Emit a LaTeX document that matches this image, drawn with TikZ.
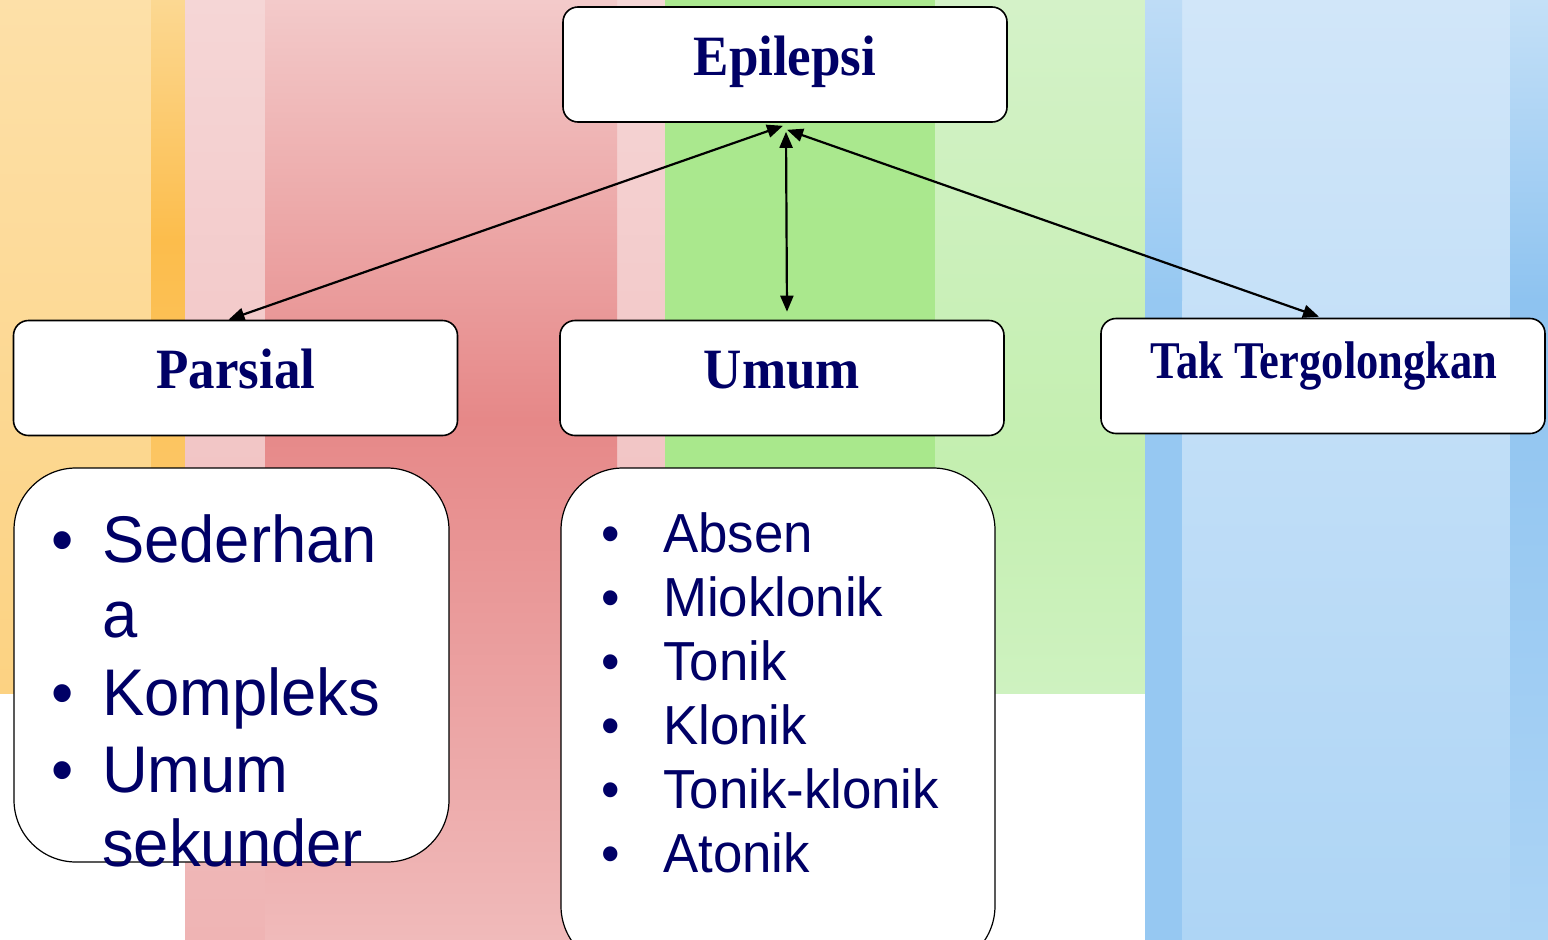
\documentclass[tikz,border=0pt]{standalone}
\usepackage{fontspec}
\newfontfamily\serifb[FakeStretch=0.93]{Liberation Serif}
\newfontfamily\serifc[FakeStretch=0.84]{Liberation Serif}
\newfontfamily\arialc[FakeStretch=0.96]{Liberation Sans}
\usetikzlibrary{arrows.meta,calc}
\definecolor{navy}{RGB}{0,0,102}
\definecolor{bluestripe}{RGB}{150,200,242}
\tikzset{
  topbox/.style={draw=black, line width=1.6pt, rounded corners=15pt, fill=white,
     minimum width=444pt, minimum height=115pt, inner sep=0pt},
  listbox/.style={draw=black, line width=1.2pt, rounded corners=62pt, fill=white, inner sep=0pt},
  title/.style={text=navy, anchor=base, inner sep=0pt, font=\serifb\bfseries\fontsize{57pt}{60pt}\selectfont},
  titlesm/.style={text=navy, anchor=base, inner sep=0pt, font=\serifc\bfseries\fontsize{53pt}{56pt}\selectfont},
  itemL/.style={text=navy, anchor=base west, inner sep=0pt, font=\arialc\fontsize{66pt}{70pt}\selectfont},
  itemR/.style={text=navy, anchor=base west, inner sep=0pt, font=\arialc\fontsize{55pt}{60pt}\selectfont},
  bulL/.style={text=navy, anchor=base, inner sep=0pt, font=\arialc\fontsize{66pt}{70pt}\selectfont},
  bulR/.style={text=navy, anchor=base, inner sep=0pt, font=\arialc\fontsize{55pt}{60pt}\selectfont},
  conn/.style={line width=2.2pt, {Triangle[length=16pt,width=13pt]}-{Triangle[length=16pt,width=13pt]}}
}
\begin{document}
\begin{tikzpicture}[x=1pt,y=-1pt]
\useasboundingbox (0,0) rectangle (1548,940);
\clip (0,0) rectangle (1548,940);
\fill[white] (0,0) rectangle (1548,940);
% orange band
\shade[top color={rgb,255:red,253;green,224;blue,168}, bottom color={rgb,255:red,252;green,210;blue,130}] (0,0) rectangle (151,693);
\shade[top color={rgb,255:red,252;green,216;blue,146}, bottom color={rgb,255:red,252;green,189;blue,76}] (151,0) rectangle (185,240);
\shade[top color={rgb,255:red,252;green,189;blue,76}, bottom color={rgb,255:red,252;green,206;blue,122}] (151,240) rectangle (185,693);
% red band
\shade[top color={rgb,255:red,245;green,214;blue,214}, bottom color={rgb,255:red,239;green,180;blue,180}] (185,0) rectangle (265,940);
\shade[top color={rgb,255:red,245;green,214;blue,214}, bottom color={rgb,255:red,239;green,180;blue,180}] (617,0) rectangle (665,940);
\shade[top color={rgb,255:red,243;green,202;blue,202}, bottom color={rgb,255:red,230;green,136;blue,136}] (265,0) rectangle (617,420);
\shade[top color={rgb,255:red,230;green,136;blue,136}, bottom color={rgb,255:red,240;green,186;blue,186}] (265,420) rectangle (617,940);
% green band
\shade[top color={rgb,255:red,171;green,232;blue,143}, bottom color={rgb,255:red,168;green,232;blue,138}] (665,0) rectangle (935,693);
\shade[top color={rgb,255:red,212;green,242;blue,200}, bottom color={rgb,255:red,196;green,239;blue,176}] (935,0) rectangle (1145,460);
\shade[top color={rgb,255:red,196;green,239;blue,176}, bottom color={rgb,255:red,206;green,242;blue,192}] (935,460) rectangle (1145,693);
% blue band
\shade[top color={rgb,255:red,209;green,230;blue,249}, bottom color={rgb,255:red,174;green,213;blue,245}] (1182,0) rectangle (1510,940);
\shade[top color={rgb,255:red,190;green,220;blue,246}, bottom color=bluestripe] (1145,0) rectangle (1182,300);
\fill[bluestripe] (1145,300) rectangle (1182,940);
\shade[top color={rgb,255:red,196;green,224;blue,247}, bottom color={rgb,255:red,142;green,195;blue,240}] (1510,0) rectangle (1548,300);
\shade[top color={rgb,255:red,142;green,195;blue,240}, bottom color={rgb,255:red,172;green,212;blue,245}] (1510,300) rectangle (1548,940);

% boxes
\node[topbox] (epi) at (785,64.5) {};
\node[topbox] (par) at (235.5,378) {};
\node[topbox] (umu) at (782,378) {};
\node[topbox] (tak) at (1323,376) {};
\node[listbox, minimum width=435pt, minimum height=394pt] (parl) at (231.5,665) {};
\node[listbox, minimum width=434pt, minimum height=500pt] (umul) at (778,718) {};

% titles
\node[title] (tepi) at (785,75) {Epilepsi};
\node[title] (tpar) at (236,388) {Parsial};
\node[title] (tumu) at (782,388) {Umum};
\node[titlesm] (ttak) at (1324,378) {Tak Tergolongkan};

% connectors
\coordinate (e1) at ([xshift=-2pt,yshift=-3pt]epi.south);
\coordinate (e2) at ([xshift=1pt,yshift=-9pt]epi.south);
\coordinate (e3) at ([xshift=2pt,yshift=-7pt]epi.south);
\coordinate (p1) at ([xshift=-7pt]par.north);
\coordinate (u1) at ([xshift=5pt,yshift=8pt]umu.north);
\coordinate (t1) at ([xshift=-4pt,yshift=1pt]tak.north);
\draw[conn] (e1) -- (p1);
\draw[conn] (e2) -- (u1);
\draw[conn] (e3) -- (t1);

% left list
\node[bulL] (bl1) at (63,562) {•};
\node[itemL] (l1) at (102,562) {Sederhan};
\node[itemL] (l2) at (102,637) {a};
\node[bulL] (bl3) at (63,715) {•};
\node[itemL] (l3) at (102,715) {Kompleks};
\node[bulL] (bl4) at (63,792) {•};
\node[itemL] (l4) at (102,792) {Umum};
\node[itemL] (l5) at (102,866) {sekunder};

% right list
\node[bulR] (br1) at (611,552) {•};
\node[itemR] (r1) at (663,552) {Absen};
\node[bulR] (br2) at (611,616) {•};
\node[itemR] (r2) at (663,616) {Mioklonik};
\node[bulR] (br3) at (611,680) {•};
\node[itemR] (r3) at (663,680) {Tonik};
\node[bulR] (br4) at (611,744) {•};
\node[itemR] (r4) at (663,744) {Klonik};
\node[bulR] (br5) at (611,808) {•};
\node[itemR] (r5) at (663,808) {Tonik-klonik};
\node[bulR] (br6) at (611,872) {•};
\node[itemR] (r6) at (663,872) {Atonik};
\end{tikzpicture}
\end{document}
